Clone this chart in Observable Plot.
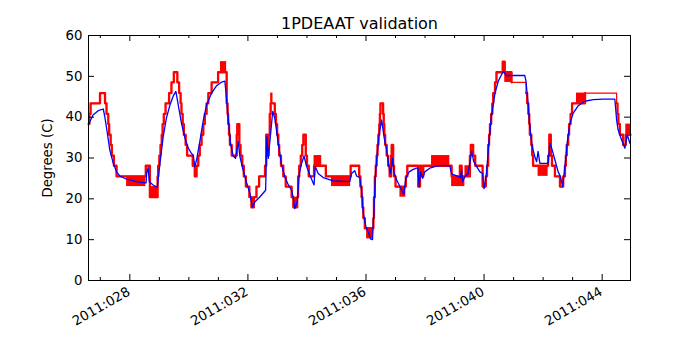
<!DOCTYPE html>
<html><head><meta charset="utf-8">
<script src="https://cdn.jsdelivr.net/npm/d3@7"></script>
<script src="https://cdn.jsdelivr.net/npm/@observablehq/plot@0.6"></script>
<style>body{margin:0;background:#fff}</style>
</head><body><div id="chart"></div>
<script>
const title = "1PDEAAT validation";
const yLabel = "Degrees (C)";
const xMajorDays = [28, 32, 36, 40, 44];
const xMajorLabels = ["2011:028", "2011:032", "2011:036", "2011:040", "2011:044"];
const xMinorDays = [27, 29, 30, 31, 33, 34, 35, 37, 38, 39, 41, 42, 43];
const yTicks = [0, 10, 20, 30, 40, 50, 60];

// model (blue) — day of year 2011, degrees C
const blueT = [26.62,26.76,26.93,27.10,27.15,27.23,27.32,27.44,27.55,27.66,27.89,28.23,28.51,28.55,28.57,28.62,28.66,28.79,28.93,
  29.02,29.13,29.24,29.36,29.47,29.56,29.64,29.75,29.87,29.98,30.09,30.15,30.20,30.26,30.37,30.49,30.60,30.77,30.94,31.11,31.22,
  31.33,31.41,31.50,31.58,31.67,31.73,31.84,31.96,32.07,32.15,32.24,32.41,32.60,32.64,32.69,32.84,32.91,33.03,33.14,33.25,33.37,
  33.48,33.53,33.59,33.67,33.74,33.82,33.90,33.99,34.10,34.24,34.28,34.38,34.55,34.89,35.45,35.51,35.62,35.68,35.79,35.85,35.91,
  36.00,36.08,36.15,36.22,36.27,36.32,36.38,36.45,36.53,36.61,36.70,36.78,36.83,36.90,36.94,37.04,37.15,37.28,37.35,37.46,37.60,
  37.71,37.76,37.80,37.85,37.92,37.99,38.16,38.39,38.62,38.84,38.90,39.07,39.20,39.24,39.27,39.35,39.46,39.58,39.65,39.75,39.86,
  39.95,40.00,40.08,40.17,40.25,40.37,40.48,40.59,40.67,40.74,41.38,41.42,41.50,41.55,41.63,41.72,41.78,41.83,41.89,42.17,42.23,
  42.29,42.40,42.51,42.59,42.66,42.74,42.82,42.91,43.02,43.19,43.41,43.70,44.04,44.43,44.49,44.54,44.66,44.77,44.85,44.94];
const blueV = [38.5,40.6,41.6,42.0,40.2,36.5,32.0,28.7,26.6,25.6,24.8,24.2,23.9,23.9,26.2,27.7,24.2,23.4,22.8,
  28.7,35.2,39.8,43.0,45.2,46.3,43.0,38.5,34.8,32.4,31.1,30.7,27.9,29.5,34.0,39.3,43.0,45.9,47.7,48.6,48.8,
  40.2,33.6,30.5,29.9,34.0,30.3,27.0,23.8,21.3,18.0,19.3,20.5,22.1,35.2,29.9,41.4,39.8,33.6,28.3,25.4,23.4,
  22.1,20.5,17.6,19.3,26.2,28.7,30.5,27.9,25.8,23.4,27.9,26.2,25.2,24.4,24.2,26.2,26.9,25.6,25.2,22.1,16.4,
  13.1,11.9,10.2,10.0,17.2,26.2,31.1,36.1,39.3,35.2,32.0,27.9,26.2,29.9,26.6,24.6,23.0,21.1,25.0,26.6,27.2,
  27.5,27.5,23.0,26.6,25.0,26.6,27.5,28.0,28.2,28.0,26.1,25.6,25.2,27.0,24.2,25.4,26.2,31.6,29.1,27.9,26.6,
  26.2,22.5,26.2,34.4,40.2,45.9,48.8,50.4,51.2,50.2,50.2,48.8,42.6,37.7,32.8,30.3,29.1,31.6,28.7,28.7,33.6,
  32.4,29.5,26.6,25.4,23.0,27.9,34.0,38.5,41.0,42.8,43.9,44.3,44.4,44.4,39.3,36.9,34.4,32.4,35.7,33.6];

// telemetry (red) — quantized steps: start day, level
const redT = [26.60,26.63,26.67,26.99,27.16,27.21,27.27,27.30,27.35,27.39,27.46,27.55,28.54,28.68,28.94,28.96,29.00,29.04,29.08,29.11,
  29.15,29.21,29.27,29.33,29.41,29.49,29.61,29.67,29.72,29.75,29.79,29.83,29.89,29.94,30.13,30.20,30.26,30.32,30.37,30.43,30.49,
  30.54,30.60,30.66,30.77,30.99,31.28,31.31,31.33,31.36,31.39,31.45,31.62,31.64,31.71,31.75,31.81,31.86,31.93,32.05,32.12,32.20,
  32.29,32.38,32.58,32.62,32.66,32.70,32.74,32.77,32.91,32.95,32.99,33.03,33.06,33.12,33.20,33.28,33.48,33.54,33.67,33.70,33.74,
  33.79,33.84,33.88,33.96,34.00,34.06,34.24,34.64,35.48,35.77,35.81,35.85,35.88,35.91,35.96,36.25,36.27,36.30,36.33,36.36,36.39,
  36.42,36.45,36.47,36.49,36.58,36.60,36.62,36.65,36.70,36.75,36.80,36.85,36.87,36.92,36.95,37.00,37.35,37.40,37.77,37.83,37.88,
  37.94,38.90,39.18,39.24,39.52,39.55,39.63,39.70,39.95,40.06,40.10,40.14,40.17,40.20,40.24,40.28,40.31,40.37,40.42,40.63,40.70,
  40.93,41.42,41.46,41.50,41.53,41.55,41.60,41.63,41.66,42.17,42.21,42.26,42.30,42.40,42.57,42.68,42.74,42.77,42.80,42.85,42.88,
  42.93,42.98,43.42,44.49,44.52,44.55,44.60,44.71,44.80,44.96];
const redV = [38.3,40.8,43.4,45.9,43.4,40.8,38.3,35.7,33.2,30.6,28.1,25.5,28.1,20.4,25.5,28.1,30.6,33.2,35.7,38.3,
  40.8,43.4,43.4,45.9,48.5,51.0,48.5,45.9,43.4,40.8,38.3,35.7,33.2,30.6,28.1,25.5,28.1,30.6,33.2,35.7,38.3,
  40.8,43.4,45.9,48.5,51.0,43.4,40.8,38.3,35.7,33.2,30.6,35.7,38.3,33.2,30.6,28.1,25.5,23.0,20.4,17.9,20.4,
  23.0,25.5,28.1,35.7,30.6,35.7,40.8,43.4,40.8,38.3,35.7,33.2,30.6,28.1,25.5,23.0,20.4,17.9,20.4,25.5,28.1,
  30.6,33.2,35.7,30.6,28.1,25.5,28.1,25.5,28.1,25.5,23.0,20.4,17.9,15.3,12.8,15.3,20.4,25.5,28.1,30.6,33.2,
  35.7,38.3,40.8,43.4,40.8,38.3,35.7,33.2,30.6,28.1,25.5,30.6,33.2,28.1,25.5,23.0,25.5,28.1,23.0,28.1,25.5,
  28.1,25.5,28.1,25.5,30.6,33.2,30.6,28.1,23.0,25.5,28.1,33.2,35.7,38.3,40.8,43.4,45.9,48.5,51.0,53.6,51.0,
  48.5,45.9,43.4,40.8,38.3,35.7,33.2,30.6,28.1,30.6,35.7,30.6,28.1,25.5,23.0,25.5,28.1,30.6,33.2,35.7,38.3,
  40.8,43.4,45.9,43.4,40.8,38.3,35.7,33.2,35.7,35.7];

// spans where the telemetry flickers between two adjacent levels
const bandStart = [27.89,28.68,31.07,32.12,32.77,33.54,34.24,34.83,36.02,37.15,38.22,38.90,39.35,40.70,41.83,43.13,44.80];
const bandEnd   = [28.54,28.94,31.28,32.20,32.85,33.67,34.50,35.48,36.25,37.35,38.84,39.35,39.52,40.93,42.17,43.42,44.96];
const bandLo    = [23.0,20.4,51.0,17.9,43.4,17.9,28.1,23.0,10.2,20.4,28.1,23.0,25.5,48.5,25.5,43.4,35.7];
const bandHi    = [25.5,23.0,53.6,20.4,45.9,20.4,30.6,25.5,12.8,23.0,30.6,25.5,28.1,51.0,28.1,45.9,38.3];

// data gaps in the telemetry (drawn as a thin straight segment)
const gapStart = [40.93, 43.42];
const gapEnd   = [41.42, 44.49];

const blue = blueT.map((t, i) => ({t, v: blueV[i]}));
const red = redT.map((t, i) => ({t, v: redV[i], g: gapEnd.filter(e => e <= t).length}));
const bands = bandStart.map((s, i) => ({s, e: bandEnd[i], lo: bandLo[i], hi: bandHi[i]}));

const W = 700, H = 350, mL = 88, mR = 70, mT = 35, mB = 70;
const frameW = W - mL - mR, frameH = H - mT - mB;

const chart = Plot.plot({
  width: W, height: H,
  marginLeft: mL, marginRight: mR, marginTop: mT, marginBottom: mB,
  style: {fontFamily: "DejaVu Sans", fontSize: "13.3px", background: "white", color: "black"},
  x: {domain: [26.6, 44.96], axis: null},
  y: {domain: [0, 60], axis: null},
  marks: [
    Plot.rect(bands, {x1: "s", x2: "e", y1: "lo", y2: "hi", fill: "red"}),
    Plot.line(red, {x: "t", y: "v", curve: "step-after", stroke: "red", strokeWidth: 1.2}),
    Plot.line(red, {x: "t", y: "v", z: "g", curve: "step-after", stroke: "red", strokeWidth: 2.3}),
    Plot.line(blue, {x: "t", y: "v", stroke: "#0000ff", strokeWidth: 1.3}),
    Plot.frame({stroke: "black"}),
    Plot.tickX(xMajorDays, {x: d => d, insetTop: frameH - 6, stroke: "black"}),
    Plot.tickX(xMajorDays, {x: d => d, insetBottom: frameH - 6, stroke: "black"}),
    Plot.tickX(xMinorDays, {x: d => d, insetTop: frameH - 3, stroke: "black"}),
    Plot.tickX(xMinorDays, {x: d => d, insetBottom: frameH - 3, stroke: "black"}),
    Plot.tickY(yTicks, {y: d => d, insetRight: frameW - 6, stroke: "black"}),
    Plot.tickY(yTicks, {y: d => d, insetLeft: frameW - 6, stroke: "black"}),
    Plot.axisY(yTicks, {tickSize: 0, tickPadding: 6, label: null, tickFormat: d => String(d)}),
    Plot.text(xMajorDays, {x: d => d, text: (d, i) => xMajorLabels[i], frameAnchor: "bottom", dy: 10, dx: -1, rotate: -30, textAnchor: "end", lineAnchor: "middle"}),
    Plot.text([yLabel], {text: d => d, frameAnchor: "left", dx: -41, rotate: -90, textAnchor: "middle", lineAnchor: "middle"}),
    Plot.text([title], {text: d => d, frameAnchor: "top", dy: -12, fontSize: 16, textAnchor: "middle", lineAnchor: "middle"})
  ]
});
document.getElementById("chart").appendChild(chart);
</script>
</body></html>
